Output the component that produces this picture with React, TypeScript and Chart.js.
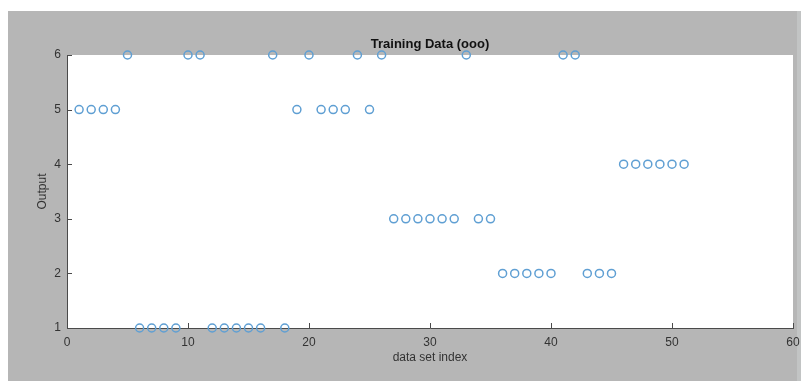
import React, { useEffect, useRef } from "react";
import { Chart, registerables } from "chart.js";

Chart.register(...registerables);

const indices: number[] = [
  1, 2, 3, 4, 5, 6, 7, 8, 9, 10, 11, 12, 13, 14, 15, 16, 17, 18, 19, 20, 21, 22, 23, 24, 25, 26,
  27, 28, 29, 30, 31, 32, 33, 34, 35, 36, 37, 38, 39, 40, 41, 42, 43, 44, 45, 46, 47, 48, 49, 50, 51,
];
const outputs: number[] = [
  5, 5, 5, 5, 6, 1, 1, 1, 1, 6, 6, 1, 1, 1, 1, 1, 6, 1, 5, 6, 5, 5, 5, 6, 5, 6,
  3, 3, 3, 3, 3, 3, 6, 3, 3, 2, 2, 2, 2, 2, 6, 6, 2, 2, 2, 4, 4, 4, 4, 4, 4,
];
const xTicks: number[] = [0, 10, 20, 30, 40, 50, 60];
const yTicks: number[] = [1, 2, 3, 4, 5, 6];
const chartTitle = "Training Data (ooo)";
const xTitle = "data set index";
const yTitle = "Output";

const FONT = "'Liberation Sans', Arial, Helvetica, sans-serif";
const GRAY = "#b6b6b6";
const AXIS = "#4a4a4a";

const framePlugin = {
  id: "frame",
  beforeDraw(chart: any) {
    const { ctx, width, height, chartArea } = chart;
    ctx.save();
    ctx.fillStyle = "#ffffff";
    ctx.fillRect(0, 0, width, height);
    ctx.fillStyle = GRAY;
    ctx.fillRect(8, 11, width - 8, height - 11);
    ctx.fillStyle = "#c2c4c4";
    ctx.fillRect(797, 11, width - 797, height - 11);
    ctx.fillStyle = "#ffffff";
    ctx.fillRect(chartArea.left, chartArea.top, chartArea.right - chartArea.left, chartArea.bottom - chartArea.top);
    ctx.restore();
  },
  afterDraw(chart: any) {
    const { ctx, chartArea } = chart;
    const xs = chart.scales.x;
    const ys = chart.scales.y;
    ctx.save();
    ctx.strokeStyle = AXIS;
    ctx.lineWidth = 1;
    ctx.beginPath();
    xTicks.forEach((v) => {
      const px = Math.round(xs.getPixelForValue(v)) + 0.5;
      ctx.moveTo(px, chartArea.bottom);
      ctx.lineTo(px, chartArea.bottom - 5);
    });
    yTicks.forEach((v) => {
      const py = Math.round(ys.getPixelForValue(v)) + 0.5;
      ctx.moveTo(chartArea.left, py);
      ctx.lineTo(chartArea.left + 5, py);
    });
    ctx.stroke();
    ctx.fillStyle = "#111111";
    ctx.font = `bold 13px ${FONT}`;
    ctx.textAlign = "center";
    ctx.textBaseline = "middle";
    ctx.fillText(chartTitle, (chartArea.left + chartArea.right) / 2, 44);
    ctx.restore();
  },
};

export default function App() {
  const ref = useRef<HTMLCanvasElement | null>(null);
  useEffect(() => {
    if (!ref.current) return;
    const chart = new Chart(ref.current, {
      type: "scatter",
      data: {
        datasets: [
          {
            data: indices.map((x, i) => ({ x, y: outputs[i] })),
            pointStyle: "circle",
            pointRadius: 4,
            pointBorderWidth: 1.5,
            pointBorderColor: "#5f9fd3",
            pointBackgroundColor: "rgba(0,0,0,0)",
            showLine: false,
            clip: false as any,
          },
        ],
      },
      options: {
        responsive: false,
        animation: false,
        layout: { padding: { top: 55, right: 8, left: 0, bottom: 0 } },
        plugins: { legend: { display: false }, tooltip: { enabled: false }, title: { display: false } },
        scales: {
          x: {
            type: "linear",
            min: 0,
            max: 60,
            afterBuildTicks: (s: any) => {
              s.ticks = xTicks.map((v) => ({ value: v }));
            },
            afterFit: (s: any) => {
              s.height = 53;
              s.paddingLeft = 0;
              s.paddingRight = 0;
            },
            grid: { display: false, drawTicks: false },
            border: { display: true, color: AXIS, width: 1 },
            ticks: { color: "#333333", font: { family: FONT, size: 12 }, padding: 7, maxRotation: 0, autoSkip: false },
            title: { display: true, text: xTitle, color: "#333333", font: { family: FONT, size: 12 }, padding: { top: 0, bottom: 16 } },
          },
          y: {
            type: "linear",
            min: 1,
            max: 6,
            afterBuildTicks: (s: any) => {
              s.ticks = yTicks.map((v) => ({ value: v }));
            },
            afterFit: (s: any) => {
              s.width = 67;
              s.paddingTop = 0;
              s.paddingBottom = 0;
            },
            grid: { display: false, drawTicks: false },
            border: { display: true, color: AXIS, width: 1 },
            ticks: { color: "#333333", font: { family: FONT, size: 12 }, padding: 6, autoSkip: false },
            title: { display: true, text: yTitle, color: "#333333", font: { family: FONT, size: 12 }, padding: { top: 35, bottom: 0 } },
          },
        },
      },
      plugins: [framePlugin],
    });
    return () => chart.destroy();
  }, []);
  return (
    <div style={{ position: "fixed", left: 0, top: 0, width: 801, height: 381 }}>
      <canvas ref={ref} width={801} height={381} style={{ display: "block" }} />
    </div>
  );
}
